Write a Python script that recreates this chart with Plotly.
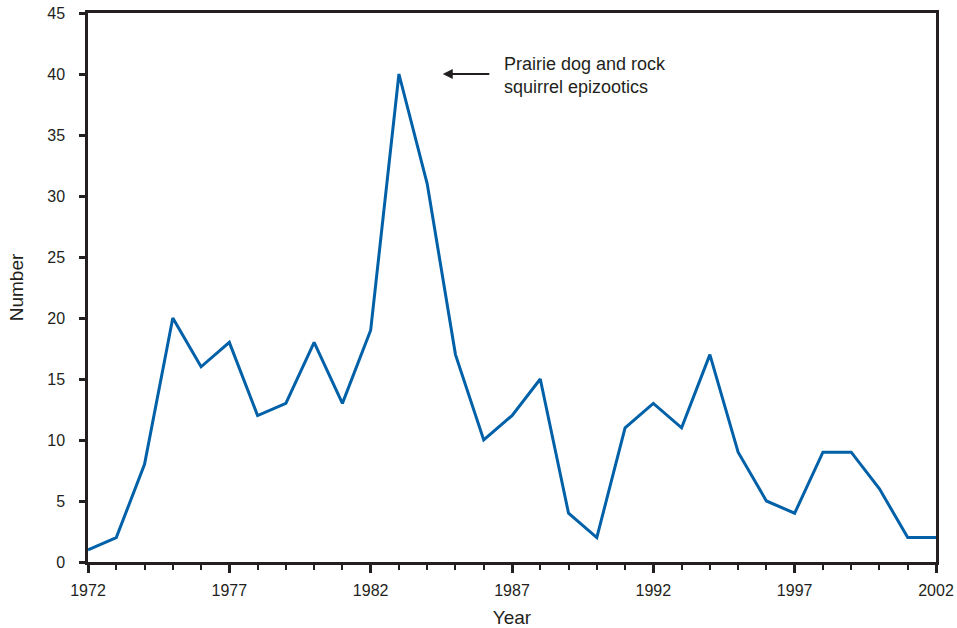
import plotly.graph_objects as go

years = list(range(1972, 2003))
cases = [1, 2, 8, 20, 16, 18, 12, 13, 18, 13, 19, 40, 31, 17, 10, 12, 15, 4, 2,
         11, 13, 11, 17, 9, 5, 4, 9, 9, 6, 2, 2]
x_ticks = [1972, 1977, 1982, 1987, 1992, 1997, 2002]
y_ticks = [0, 5, 10, 15, 20, 25, 30, 35, 40, 45]
note = "Prairie dog and rock<br>squirrel epizootics"

FONT = "Liberation Sans, Arial, sans-serif"
INK = "#231f20"

fig = go.Figure()
fig.add_trace(go.Scatter(x=years, y=cases, mode="lines",
                         line=dict(color="#0061a8", width=3), showlegend=False))

fig.add_annotation(x=1984.55, y=40, ax=1986.25, ay=40, axref="x", ayref="y",
                   xref="x", yref="y", text="", showarrow=True,
                   arrowhead=2, arrowsize=1, arrowwidth=2, arrowcolor=INK)
fig.add_annotation(x=1986.65, y=39.9, xref="x", yref="y", text=note,
                   showarrow=False, xanchor="left", yanchor="middle", align="left",
                   font=dict(family=FONT, size=18, color=INK))

axis_common = dict(showline=True, linecolor=INK, linewidth=2.5, mirror=True,
                   showgrid=False, zeroline=False, ticks="outside",
                   tickcolor=INK, tickwidth=2.5, automargin=False,
                   tickfont=dict(family=FONT, size=16, color=INK))

fig.update_layout(
    width=957, height=628,
    margin=dict(l=88, r=21, t=13, b=66),
    plot_bgcolor="white", paper_bgcolor="white",
    font=dict(family=FONT, color=INK),
    xaxis=dict(range=[1972, 2002], tickvals=x_ticks, ticklen=8, ticklabelstandoff=4,
               minor=dict(dtick=1, tick0=1972, ticks="outside", ticklen=5,
                          tickcolor=INK, tickwidth=2),
               title=dict(text="Year", standoff=14,
                          font=dict(family=FONT, size=19, color=INK)),
               **axis_common),
    yaxis=dict(range=[0, 45], tickvals=y_ticks, ticklen=6, ticklabelstandoff=11,
               title=dict(text="Number", standoff=19,
                          font=dict(family=FONT, size=19, color=INK)),
               **axis_common),
)

fig.write_html("out.html", config={"displayModeBar": False},
               post_script="document.body.style.margin='0';")
